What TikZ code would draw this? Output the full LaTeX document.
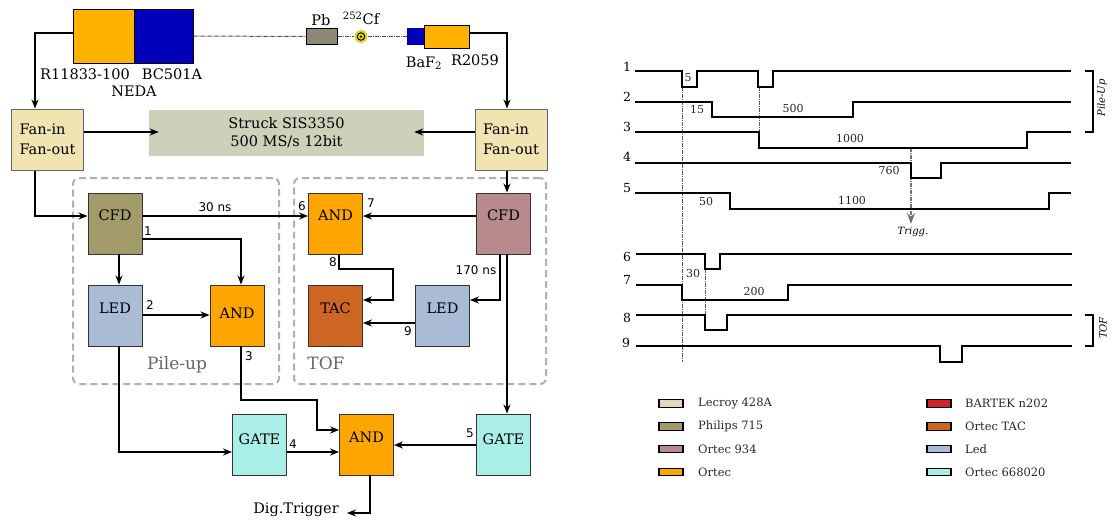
\documentclass[tikz,border=0pt]{standalone}
\usepackage{fontspec}
\setmainfont{DejaVu Serif}
\setsansfont{DejaVu Sans}
\usetikzlibrary{arrows.meta}
\definecolor{fancol}{HTML}{F0E4B0}
\definecolor{struckcol}{HTML}{CFD0BA}
\definecolor{lecroycol}{HTML}{DDD8BE}
\definecolor{philipscol}{HTML}{A39A6A}
\definecolor{ortecfdcol}{HTML}{B98A8C}
\definecolor{orteccol}{HTML}{FFA500}
\definecolor{bartekcol}{HTML}{D0202A}
\definecolor{taccol}{HTML}{CC6622}
\definecolor{ledcol}{HTML}{AABBD6}
\definecolor{gatecol}{HTML}{AAEEE8}
\definecolor{pmtcol}{HTML}{FFB300}
\definecolor{scintcol}{HTML}{0000BB}
\definecolor{pbcol}{HTML}{8F8877}
\definecolor{groupcol}{HTML}{B0B0B0}
\begin{document}
\begin{tikzpicture}[
   x=1pt,y=-1pt,
   every node/.style={font=\fontsize{14.5}{16}\selectfont,inner sep=0pt},
   blockbox/.style={draw=black!80,line width=0.9pt,minimum width=54,minimum height=61,text height=10pt,text depth=#1},
   blockbox/.default=5pt,
   fanbox/.style={draw=black!60,line width=1pt,fill=fancol,minimum width=72,minimum height=61,align=left,font=\fontsize{14.5}{20.5}\selectfont},
   groupbox/.style={draw=groupcol,line width=2pt,rounded corners=6pt,dash pattern=on 7pt off 4pt,minimum height=206},
   grouplabel/.style={text=black!60,font=\fontsize{17}{19}\selectfont},
   tag/.style={font=\sffamily\fontsize{12}{13}\selectfont},
   delay/.style={font=\sffamily\fontsize{12}{14}\selectfont},
   conn/.style={line width=1.6pt,-{Stealth[length=9pt,width=7pt]}},
   beam/.style={black!70,line width=1pt,dash pattern=on 4pt off 1pt on 1pt off 1pt},
   wave/.style={line width=1.6pt},
   guide/.style={black!65,line width=1pt,dash pattern=on 4pt off 1pt on 1pt off 1pt},
   sigtag/.style={font=\fontsize{12.5}{14}\selectfont},
   width/.style={font=\fontsize{11}{12}\selectfont,text=black!85},
   swatch/.style={draw=black,line width=1.2pt,minimum width=24,minimum height=7.5},
   legend/.style={anchor=west,font=\fontsize{11.5}{13}\selectfont,text=black!85}
 ]
  \useasboundingbox (0,0) rectangle (1112,520);

  % detectors
  \node[draw,line width=1pt,fill=pmtcol,minimum width=61,minimum height=54] (neda) at (103.5,36) {};
  \node[draw,line width=1pt,fill=scintcol,minimum width=59,minimum height=54] (bc) at (163.5,36) {};
  \node (neda1) at (85,74) {R11833-100};
  \node (neda2) at (172,74) {BC501A};
  \node (neda3) at (134,91) {NEDA};
  \node[draw,line width=1pt,fill=pbcol,minimum width=31,minimum height=16] (pb) at (321.5,36.5) {};
  \node (pbl) at (321,20) {Pb};
  \node[circle,fill=yellow!85!black,minimum size=13] (cf) at (361,36.5) {};
  \node[circle,draw,line width=0.9pt,minimum size=7.5] (cfr) at (361,36.5) {};
  \node[circle,fill=black,minimum size=2.5] (cfd) at (361,36.5) {};
  \node (cfl) at (361,18) {\textsuperscript{252}Cf};
  \node[fill=scintcol,draw=scintcol,minimum width=17,minimum height=16] (baf) at (415.5,36.5) {};
  \node[draw,line width=1pt,fill=pmtcol,minimum width=45,minimum height=23] (r20) at (446.5,36.5) {};
  \node (bafl) at (424,63) {BaF\textsubscript{2}};
  \node (r20l) at (475,60) {R2059};
  \draw[beam] (bc.east) -- (pb.west);
  \draw[beam] (pb.east) -- (cf.west);
  \draw[beam] (cf.east) -- (baf.west);

  % readout
  \node[fanbox] (fanl) at (47.5,139.5) {Fan-in\\Fan-out};
  \node[fanbox] (fanr) at (511,139.5) {Fan-in\\Fan-out};
  \node[fill=struckcol,minimum width=275,minimum height=46,align=center,font=\fontsize{14.5}{18}\selectfont] (struck) at (286.5,133) {Struck SIS3350\\500 MS/s 12bit};

  % groups
  \node[groupbox,minimum width=206] (pile) at (176,281) {};
  \node[groupbox,minimum width=252] (tof) at (420,281) {};
  \node[grouplabel] (pilel) at (177,365) {Pile-up};
  \node[grouplabel] (tofl) at (326,363) {TOF};

  % logic
  \node[blockbox=17pt,fill=philipscol] (cfdp) at (115,223.5) {CFD};
  \node[blockbox=15pt,fill=ledcol] (ledp) at (115,315.5) {LED};
  \node[blockbox=5pt,fill=orteccol] (andp) at (237,315.5) {AND};
  \node[blockbox=17pt,fill=orteccol] (andt) at (335.5,223.5) {AND};
  \node[blockbox=17pt,fill=ortecfdcol] (cfdt) at (503.5,223.5) {CFD};
  \node[blockbox=15pt,fill=taccol] (tac) at (335.5,315.5) {TAC};
  \node[blockbox=15pt,fill=ledcol] (ledt) at (442.5,315.5) {LED};
  \node[blockbox=11pt,fill=gatecol] (gatep) at (259.5,444.5) {GATE};
  \node[blockbox=15pt,fill=orteccol] (andd) at (366.5,444.5) {AND};
  \node[blockbox=11pt,fill=gatecol] (gatet) at (503.5,444.5) {GATE};
  \node (digtrig) at (296,510) {Dig.Trigger};

  \draw[conn] ([yshift=3]neda.west) -| ([xshift=-12.5]fanl.north);
  \draw[conn] ([yshift=3.5]r20.east) -| ([xshift=-4]fanr.north);
  \draw[conn] ([yshift=7.5]fanl.east) -- ([xshift=10,yshift=1]struck.west);
  \draw[conn] ([yshift=7.5]fanr.west) -- ([xshift=-10,yshift=1]struck.east);
  \draw[conn] ([xshift=-12.5]fanl.south) |- ([yshift=7.5]cfdp.west);
  \draw[conn] ([xshift=-4]fanr.south) -- ([xshift=3.5]cfdt.north);
  \draw[conn] ([yshift=7.5]cfdp.east) -- ([yshift=7.5]andt.west);
  \draw[conn] ([yshift=7.5]cfdt.west) -- ([yshift=7.5]andt.east);
  \draw[conn] ([yshift=-15.5]cfdp.east) -| ([xshift=4]andp.north);
  \draw[conn] ([xshift=4]cfdp.south) -- ([xshift=4]ledp.north);
  \draw[conn] ([yshift=0.5]ledp.east) -- ([yshift=0.5]andp.west);
  \draw[conn] ([xshift=4]andp.south) |- ++(76,53.5) |- ([yshift=14.5]andd.west);
  \draw[conn] ([xshift=4]ledp.south) |- ([yshift=-7.5]gatep.west);
  \draw[conn] ([yshift=-7.5]gatep.east) -- ([yshift=-7.5]andd.west);
  \draw[conn] ([yshift=-0.5]gatet.west) -- ([yshift=-0.5]andd.east);
  \draw[conn] ([xshift=3.5]andd.south) |- ([xshift=8,yshift=-3]digtrig.east);
  \draw[conn] ([xshift=3.5]andt.south) |- ++(54,14.5) |- ([yshift=15.5]tac.east);
  \draw[conn] ([yshift=-7.5]ledt.west) -- ([yshift=-7.5]tac.east);
  \draw[conn] ([xshift=-3.5]cfdt.south) |- ([yshift=15.5]ledt.east);
  \draw[conn] ([xshift=3.5]cfdt.south) -- ([xshift=3.5]gatet.north);

  \node[delay] (d30) at (215,207) {30 ns};
  \node[delay] (d170) at (476,270) {170 ns};
  \node[tag] (t1) at (148,231) {1};
  \node[tag] (t2) at (150,305) {2};
  \node[tag] (t3) at (249,356) {3};
  \node[tag] (t4) at (293,444) {4};
  \node[tag] (t5) at (470,433) {5};
  \node[tag] (t6) at (302,206) {6};
  \node[tag] (t7) at (371,203) {7};
  \node[tag] (t8) at (333,262) {8};
  \node[tag] (t9) at (408,331) {9};

  % timing
  \draw[guide] (682,87) -- (682,362);
  \draw[guide] (759,87) -- (759,132);
  \draw[guide] (705,269) -- (705,330);
  \draw[guide,line width=1.2pt,black!55,-{Stealth[length=11pt,width=8pt]}] (911,148) -- (911,224);

  \draw[wave] (635,71) -| (682,87) -| (697,71) -| (758,87) -| (773,71) -- (1071,71);
  \draw[wave] (635,102) -| (712,117) -| (853,102) -- (1071,102);
  \draw[wave] (635,132) -| (759,148) -| (1027,132) -- (1071,132);
  \draw[wave] (635,163) -| (911,178) -| (941,163) -- (1071,163);
  \draw[wave] (635,193) -| (730,209) -| (1049,193) -- (1071,193);
  \draw[wave] (636,254) -| (705,269) -| (720,254) -- (1072,254);
  \draw[wave] (636,285) -| (682,300) -| (788,285) -- (1072,285);
  \draw[wave] (636,315) -| (705,330) -| (727,315) -- (1072,315);
  \draw[wave] (636,346) -| (940,362) -| (962,346) -- (1072,346);

  \node[sigtag] (s1) at (627,67) {1};
  \node[sigtag] (s2) at (627,97) {2};
  \node[sigtag] (s3) at (627,127) {3};
  \node[sigtag] (s4) at (627,157) {4};
  \node[sigtag] (s5) at (627,188) {5};
  \node[sigtag] (s6) at (627,257) {6};
  \node[sigtag] (s7) at (627,280) {7};
  \node[sigtag] (s8) at (627,318) {8};
  \node[sigtag] (s9) at (626,343) {9};

  \node[width] (w5) at (688,78) {5};
  \node[width] (w15) at (697,109) {15};
  \node[width] (w500) at (793,108) {500};
  \node[width] (w1000) at (850,138) {1000};
  \node[width] (w760) at (889,170) {760};
  \node[width] (w50) at (706,201) {50};
  \node[width] (w1100) at (852,200) {1100};
  \node[width] (w30) at (693,273) {30};
  \node[width] (w200) at (754,291) {200};
  \node[font=\itshape\fontsize{10}{12}\selectfont] (trigg) at (913,232) {Trigg.};

  \draw[wave] (1085,71) -- (1093,71) -- (1093,132) -- (1085,132);
  \draw[wave] (1085,315) -- (1093,315) -- (1093,346) -- (1085,346);
  \node[rotate=90,font=\itshape\fontsize{10}{12}\selectfont] (pileup) at (1102,98) {Pile-Up};
  \node[rotate=90,font=\itshape\fontsize{10}{12}\selectfont] (toft) at (1103,328) {TOF};

  % legend
  \foreach \n/\clr/\txt/\ypos in {a/lecroycol/Lecroy 428A/403.5,b/philipscol/Philips 715/426.5,c/ortecfdcol/Ortec 934/449,d/orteccol/Ortec/472}
    {\node[swatch,fill=\clr] (sw\n) at (671,\ypos) {};
     \node[legend] (lg\n) at (698,\ypos) {\txt};}
  \foreach \n/\clr/\txt/\ypos in {e/bartekcol/BARTEK n202/403.5,f/taccol/Ortec TAC/426.5,g/ledcol/Led/449,h/gatecol/Ortec 668020/472}
    {\node[swatch,fill=\clr] (sw\n) at (939,\ypos) {};
     \node[legend] (lg\n) at (965,\ypos) {\txt};}
\end{tikzpicture}
\end{document}
